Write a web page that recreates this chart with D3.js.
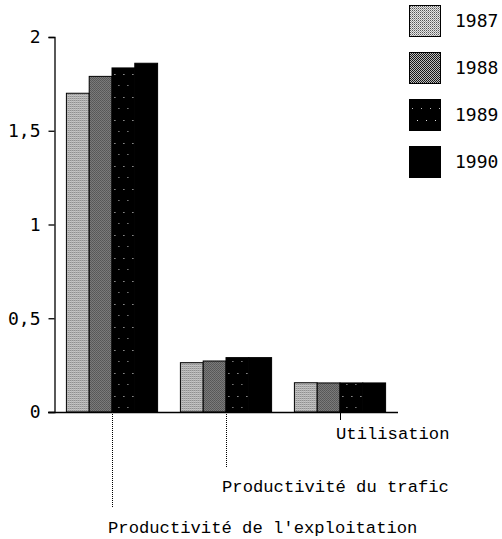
<!DOCTYPE html>
<html>
<head>
<meta charset="utf-8">
<script src="https://cdn.jsdelivr.net/npm/d3@7"></script>
<style>
  html, body { margin: 0; padding: 0; background: #fff; }
  svg { display: block; }
</style>
</head>
<body>
<svg id="chart" width="502" height="539"></svg>
<script>
const categories = ["Productivité de l'exploitation", "Productivité du trafic", "Utilisation"];
const years = ["1987", "1988", "1989", "1990"];
const values1987 = [1.70, 0.263, 0.156];
const values1988 = [1.79, 0.272, 0.155];
const values1989 = [1.835, 0.29, 0.155];
const values1990 = [1.86, 0.29, 0.155];
const yTicks = [0, 0.5, 1, 1.5, 2];
const seriesValues = [values1987, values1988, values1989, values1990];

const svg = d3.select("#chart");
const defs = svg.append("defs");

// dither-like patterns
function pat(id, w, h, bg, pixels) {
  const p = defs.append("pattern").attr("id", id)
    .attr("patternUnits", "userSpaceOnUse").attr("width", w).attr("height", h);
  p.append("rect").attr("width", w).attr("height", h).attr("fill", bg);
  pixels.forEach(([x, y, c]) => p.append("rect").attr("x", x).attr("y", y).attr("width", 1).attr("height", 1).attr("fill", c));
}
pat("p1987", 2, 2, "#e6e6e6", [[0, 0, "#555"], [1, 1, "#9a9a9a"]]);
pat("p1988", 2, 2, "#bdbdbd", [[0, 0, "#111"], [1, 1, "#1a1a1a"]]);
pat("p1989", 9, 23, "#000", [[3, 5, "#ddd"], [7, 16, "#bbb"]]);
pat("p1990", 4, 4, "#000", []);
const fills = years.map(y => `url(#p${y})`);

const y0 = 412, y1 = 37;
const y = d3.scaleLinear().domain([0, 2]).range([y0, y1]);
const x0 = d3.scaleBand().domain(categories).range([55, 397]).paddingInner(0.2).paddingOuter(0.1);
const x1 = d3.scaleBand().domain(years).range([0, x0.bandwidth()]);

// bars
categories.forEach((cat, ci) => {
  const g = svg.append("g").attr("transform", `translate(${x0(cat)},0)`);
  g.selectAll("rect").data(years.map((yr, si) => ({ yr, v: seriesValues[si][ci], si })))
    .join("rect")
    .attr("x", d => x1(d.yr))
    .attr("y", d => y(d.v))
    .attr("width", x1.bandwidth())
    .attr("height", d => y(0) - y(d.v))
    .attr("fill", d => fills[d.si])
    .attr("stroke", "#000")
    .attr("stroke-width", 1);
});

// y axis
const yAxis = svg.append("g").attr("transform", "translate(54.5,0)")
  .call(d3.axisLeft(y).tickValues(yTicks).tickSize(6).tickSizeOuter(6).tickPadding(8)
    .tickFormat(d => String(d).replace(".", ",")));
yAxis.selectAll("path, line").attr("stroke", "#000").attr("stroke-width", 1.3);
yAxis.selectAll("text").attr("font-family", "'DejaVu Sans Mono', monospace").attr("font-size", 18).attr("fill", "#000");

// baseline
svg.append("line").attr("x1", 48).attr("x2", 398).attr("y1", y0 + 0.5).attr("y2", y0 + 0.5)
  .attr("stroke", "#000").attr("stroke-width", 1.5);

// category ticks and labels
const tickLens = [95, 55, 8];
const labelBaselines = [533, 492, 439];
categories.forEach((cat, i) => {
  const cx = Math.round(x0(cat) + x0.bandwidth() / 2) + 0.5;
  svg.append("line").attr("x1", cx).attr("x2", cx).attr("y1", y0).attr("y2", y0 + tickLens[i])
    .attr("stroke", "#000").attr("stroke-width", 1)
    .attr("stroke-dasharray", i < 2 ? "1,1" : null);
  svg.append("text").attr("x", cx - 4.5).attr("y", labelBaselines[i])
    .attr("font-family", "'Liberation Mono', 'Courier New', monospace").attr("font-size", 17.2)
    .attr("fill", "#000").text(cat);
});

// legend
years.forEach((yr, i) => {
  const ly = 5 + i * 47;
  svg.append("rect").attr("x", 409.5).attr("y", ly + 0.5).attr("width", 31).attr("height", 31)
    .attr("fill", fills[i]).attr("stroke", "#000").attr("stroke-width", 1);
  svg.append("text").attr("x", 455).attr("y", ly + 22)
    .attr("font-family", "'DejaVu Sans Mono', monospace").attr("font-size", 18)
    .attr("fill", "#000").text(yr);
});
</script>
</body>
</html>
